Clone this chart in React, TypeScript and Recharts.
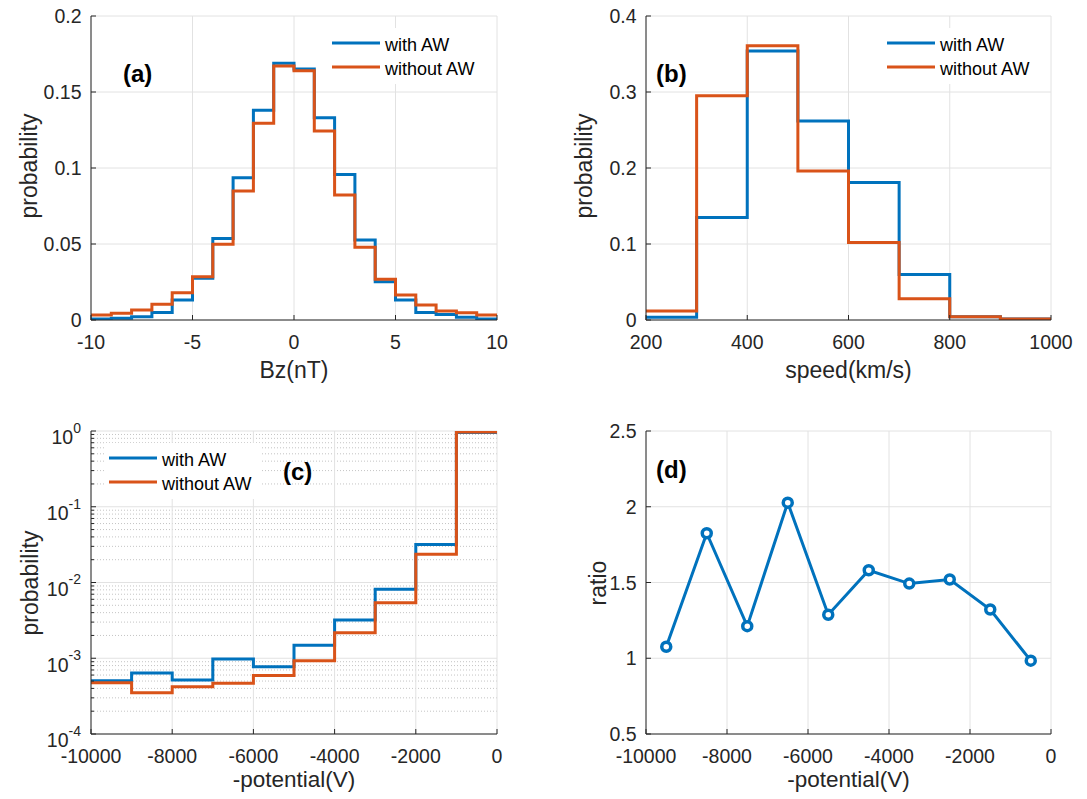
import React from 'react';
import { LineChart, Line, XAxis, YAxis, CartesianGrid, Legend } from 'recharts';

// ---------------- data ----------------
const bzEdges = [-10, -9, -8, -7, -6, -5, -4, -3, -2, -1, 0, 1, 2, 3, 4, 5, 6, 7, 8, 9, 10];
const bzWithAW = [0.0007, 0.0011, 0.0022, 0.005, 0.0132, 0.0274, 0.0537, 0.0936, 0.138, 0.1689, 0.1651, 0.1331, 0.0958, 0.0526, 0.0252, 0.0132, 0.005, 0.0037, 0.0018, 0.0007];
const bzWithoutAW = [0.0033, 0.0044, 0.0066, 0.0103, 0.018, 0.0285, 0.0498, 0.0849, 0.1294, 0.1671, 0.164, 0.1243, 0.0822, 0.0478, 0.0268, 0.0164, 0.0099, 0.0059, 0.0048, 0.0033];
const bzXTicks = [-10, -5, 0, 5, 10];
const bzYTicks = [0, 0.05, 0.1, 0.15, 0.2];

const speedEdges = [200, 300, 400, 500, 600, 700, 800, 900, 1000];
const speedWithAW = [0.0035, 0.135, 0.354, 0.262, 0.181, 0.06, 0.0044, 0.0013];
const speedWithoutAW = [0.0118, 0.295, 0.361, 0.196, 0.102, 0.028, 0.0044, 0.0013];
const speedXTicks = [200, 400, 600, 800, 1000];
const speedYTicks = [0, 0.1, 0.2, 0.3, 0.4];

const potEdges = [-10000, -9000, -8000, -7000, -6000, -5000, -4000, -3000, -2000, -1000, 0];
const potWithAW = [5.05e-4, 6.4e-4, 5.15e-4, 9.75e-4, 7.7e-4, 1.48e-3, 3.19e-3, 8.17e-3, 3.17e-2, 0.955];
const potWithoutAW = [4.75e-4, 3.5e-4, 4.2e-4, 4.66e-4, 5.94e-4, 9.27e-4, 2.17e-3, 5.4e-3, 2.36e-2, 0.97];
const potXTicks = [-10000, -8000, -6000, -4000, -2000, 0];
const potYMajor = [1e-4, 1e-3, 1e-2, 1e-1, 1];
const potYMinor = [
  2e-4, 3e-4, 4e-4, 5e-4, 6e-4, 7e-4, 8e-4, 9e-4,
  2e-3, 3e-3, 4e-3, 5e-3, 6e-3, 7e-3, 8e-3, 9e-3,
  2e-2, 3e-2, 4e-2, 5e-2, 6e-2, 7e-2, 8e-2, 9e-2,
  2e-1, 3e-1, 4e-1, 5e-1, 6e-1, 7e-1, 8e-1, 9e-1,
];

const ratioX = [-9500, -8500, -7500, -6500, -5500, -4500, -3500, -2500, -1500, -500];
const ratioY = [1.076, 1.825, 1.212, 2.027, 1.287, 1.581, 1.493, 1.52, 1.322, 0.984];
const ratioXTicks = [-10000, -8000, -6000, -4000, -2000, 0];
const ratioYTicks = [0.5, 1, 1.5, 2, 2.5];

const seriesNames = ['with AW', 'without AW'];

// ---------------- style ----------------
const FONT = '"Liberation Sans", Arial, Helvetica, sans-serif';
const AX = '#262626';
const GRID = '#e2e2e2';
const MINOR = '#c4c4c4';
const BLUE = '#0072BD';
const ORANGE = '#D95319';
const W = 1087;
const H = 799;
const TL = 5;
const TICK_FS = 19.5;
const LABEL_FS = 23;

function stairs(edges: number[], a: number[], b: number[]) {
  return edges.map((x, i) => ({
    x,
    w: a[Math.min(i, a.length - 1)],
    wo: b[Math.min(i, b.length - 1)],
  }));
}

const bzData = stairs(bzEdges, bzWithAW, bzWithoutAW);
const speedData = stairs(speedEdges, speedWithAW, speedWithoutAW);
const potData = stairs(potEdges, potWithAW, potWithoutAW);
const ratioData = ratioX.map((x, i) => ({ x, r: ratioY[i] }));

const isIn = (v: number, list: number[]) =>
  list.some((m) => Math.abs(m - v) <= 1e-9 * Math.max(1e-12, Math.abs(m)) || m === v);

const bottomTick = (p: any) => (
  <g>
    <line x1={p.x} x2={p.x} y1={p.y} y2={p.y - TL} stroke={AX} strokeWidth={1} />
    <text x={p.x} y={p.y + 28.5} textAnchor="middle" fontSize={TICK_FS} fontFamily={FONT} fill={AX}>
      {String(p.payload.value)}
    </text>
  </g>
);

const topTick = (p: any) => (
  <line x1={p.x} x2={p.x} y1={p.y} y2={p.y + TL} stroke={AX} strokeWidth={1} />
);

const makeLeftTick = (majors: number[], log: boolean) => (p: any) => {
  const v = p.payload.value;
  const major = isIn(v, majors);
  const len = major ? TL : 3;
  let label: React.ReactNode = null;
  if (major) {
    if (log) {
      const e = Math.round(Math.log10(v));
      label = (
        <text x={p.x - 10} y={p.y + 13.3} textAnchor="end" fontSize={TICK_FS} fontFamily={FONT} fill={AX}>
          10
          <tspan dy={-11.5} fontSize={14}>
            {String(e)}
          </tspan>
        </text>
      );
    } else {
      label = (
        <text x={p.x - 9.5} y={p.y} dy="0.36em" textAnchor="end" fontSize={TICK_FS} fontFamily={FONT} fill={AX}>
          {String(v)}
        </text>
      );
    }
  }
  return (
    <g>
      <line x1={p.x} x2={p.x + len} y1={p.y} y2={p.y} stroke={AX} strokeWidth={1} />
      {label}
    </g>
  );
};

const makeRightTick = (majors: number[]) => (p: any) => {
  const v = p.payload.value;
  const len = isIn(v, majors) ? TL : 3;
  return <line x1={p.x} x2={p.x - len} y1={p.y} y2={p.y} stroke={AX} strokeWidth={1} />;
};

const renderLegend = (props: any) => {
  const items = props.payload || [];
  return (
    <div
      style={{
        background: '#fff',
        padding: '3px 10px 5px 4px',
        fontFamily: FONT,
        fontSize: 18,
        color: '#000',
        lineHeight: '24px',
      }}
    >
      {items.map((it: any, i: number) => (
        <div key={i} style={{ display: 'flex', alignItems: 'center', height: 24, whiteSpace: 'nowrap' }}>
          <svg width={48} height={6} style={{ display: 'block' }}>
            <line x1={0} x2={48} y1={3} y2={3} stroke={it.color} strokeWidth={3} />
          </svg>
          <span style={{ marginLeft: 5, position: 'relative', top: 2 }}>{it.value}</span>
        </div>
      ))}
    </div>
  );
};

type Box = { l: number; r: number; t: number; b: number };

interface PanelProps {
  box: Box;
  data: any[];
  xDomain: [number, number];
  xTicks: number[];
  yDomain: [number, number];
  yMajor: number[];
  yMinor?: number[];
  log?: boolean;
  legend?: { left: number; top: number };
  children: React.ReactNode;
}

function Panel({ box, data, xDomain, xTicks, yDomain, yMajor, yMinor, log, legend, children }: PanelProps) {
  const yW = 80;
  const xH = 30;
  const margin = { top: box.t, right: W - box.r, bottom: H - box.b - xH, left: box.l - yW };
  const allY = yMinor ? [...yMajor, ...yMinor].sort((a, b) => a - b) : yMajor;
  const scale = log ? 'log' : 'linear';
  return (
    <div style={{ position: 'absolute', left: 0, top: 0 }}>
      <LineChart width={W} height={H} data={data} margin={margin}>
        {yMinor && (
          <CartesianGrid
            vertical={false}
            horizontalValues={yMinor}
            stroke={MINOR}
            strokeDasharray="1 2"
            strokeWidth={1}
          />
        )}
        <CartesianGrid stroke={GRID} strokeWidth={1} horizontalValues={yMajor} verticalValues={xTicks} />
        <XAxis
          dataKey="x"
          type="number"
          domain={xDomain}
          ticks={xTicks}
          allowDataOverflow
          interval={0}
          height={xH}
          axisLine={{ stroke: AX, strokeWidth: 1 }}
          tickLine={false}
          tickSize={0}
          tickMargin={0}
          tick={bottomTick}
        />
        <XAxis
          xAxisId="top"
          orientation="top"
          dataKey="x"
          type="number"
          domain={xDomain}
          ticks={xTicks}
          allowDataOverflow
          interval={0}
          height={0}
          axisLine={{ stroke: AX, strokeWidth: 1 }}
          tickLine={false}
          tickSize={0}
          tickMargin={0}
          tick={topTick}
        />
        <YAxis
          type="number"
          scale={scale}
          domain={yDomain}
          ticks={allY}
          allowDataOverflow
          interval={0}
          width={yW}
          axisLine={{ stroke: AX, strokeWidth: 1 }}
          tickLine={false}
          tickSize={0}
          tickMargin={0}
          tick={makeLeftTick(yMajor, !!log)}
        />
        <YAxis
          yAxisId="right"
          orientation="right"
          type="number"
          scale={scale}
          domain={yDomain}
          ticks={allY}
          allowDataOverflow
          interval={0}
          width={0}
          axisLine={{ stroke: AX, strokeWidth: 1 }}
          tickLine={false}
          tickSize={0}
          tickMargin={0}
          tick={makeRightTick(yMajor)}
        />
        {children}
        {legend && (
          <Legend
            layout="vertical"
            align="center"
            verticalAlign="middle"
            content={renderLegend}
            wrapperStyle={{ left: legend.left, top: legend.top, width: 'auto', height: 'auto' }}
          />
        )}
      </LineChart>
    </div>
  );
}

const stepLines = [
  <Line key="w" dataKey="w" name={seriesNames[0]} type="stepAfter" stroke={BLUE} strokeWidth={3} dot={false} isAnimationActive={false} />,
  <Line key="wo" dataKey="wo" name={seriesNames[1]} type="stepAfter" stroke={ORANGE} strokeWidth={3} dot={false} isAnimationActive={false} />,
];

const boxA: Box = { l: 91, r: 497, t: 16, b: 320 };
const boxB: Box = { l: 646, r: 1051, t: 16, b: 320 };
const boxC: Box = { l: 91, r: 497, t: 431, b: 734 };
const boxD: Box = { l: 646, r: 1051, t: 431, b: 734 };

export default function App() {
  const txt = { fontFamily: FONT, fontSize: LABEL_FS, fill: AX } as const;
  const txtB = { fontFamily: FONT, fontSize: 22.5, fill: AX } as const;
  const bold = { fontFamily: FONT, fontSize: 24, fontWeight: 700, fill: '#000' } as const;
  return (
    <div style={{ position: 'absolute', left: 0, top: 0, width: W, height: H, background: '#fff', overflow: 'hidden' }}>
      <Panel
        box={boxA}
        data={bzData}
        xDomain={[-10, 10]}
        xTicks={bzXTicks}
        yDomain={[0, 0.2]}
        yMajor={bzYTicks}
        legend={{ left: 328, top: 28 }}
      >
        {stepLines}
      </Panel>
      <Panel
        box={boxB}
        data={speedData}
        xDomain={[200, 1000]}
        xTicks={speedXTicks}
        yDomain={[0, 0.4]}
        yMajor={speedYTicks}
        legend={{ left: 883, top: 28 }}
      >
        {stepLines}
      </Panel>
      <Panel
        box={boxC}
        data={potData}
        xDomain={[-10000, 0]}
        xTicks={potXTicks}
        yDomain={[1e-4, 1]}
        yMajor={potYMajor}
        yMinor={potYMinor}
        log
        legend={{ left: 105, top: 443 }}
      >
        {stepLines}
      </Panel>
      <Panel
        box={boxD}
        data={ratioData}
        xDomain={[-10000, 0]}
        xTicks={ratioXTicks}
        yDomain={[0.5, 2.5]}
        yMajor={ratioYTicks}
      >
        <Line
          dataKey="r"
          name="ratio"
          type="linear"
          stroke={BLUE}
          strokeWidth={3}
          dot={{ r: 4.5, stroke: BLUE, strokeWidth: 3.5, fill: '#fff' }}
          isAnimationActive={false}
        />
      </Panel>
      <svg width={W} height={H} style={{ position: 'absolute', left: 0, top: 0, pointerEvents: 'none' }}>
        <text x={123} y={82} {...bold}>(a)</text>
        <text x={656} y={82} {...bold}>(b)</text>
        <text x={283} y={480} {...bold}>(c)</text>
        <text x={656} y={478} {...bold}>(d)</text>

        <text x={294} y={378} textAnchor="middle" {...txt}>Bz(nT)</text>
        <text x={848.5} y={378} textAnchor="middle" {...txt}>speed(km/s)</text>
        <text x={294} y={787} textAnchor="middle" {...txtB}>-potential(V)</text>
        <text x={848.5} y={787} textAnchor="middle" {...txtB}>-potential(V)</text>

        <text transform="translate(29,166) rotate(-90)" textAnchor="middle" dominantBaseline="central" {...txt}>probability</text>
        <text transform="translate(584,166) rotate(-90)" textAnchor="middle" dominantBaseline="central" {...txt}>probability</text>
        <text transform="translate(30,583) rotate(-90)" textAnchor="middle" dominantBaseline="central" {...txt}>probability</text>
        <text transform="translate(598,583) rotate(-90)" textAnchor="middle" dominantBaseline="central" {...txt}>ratio</text>
      </svg>
    </div>
  );
}
